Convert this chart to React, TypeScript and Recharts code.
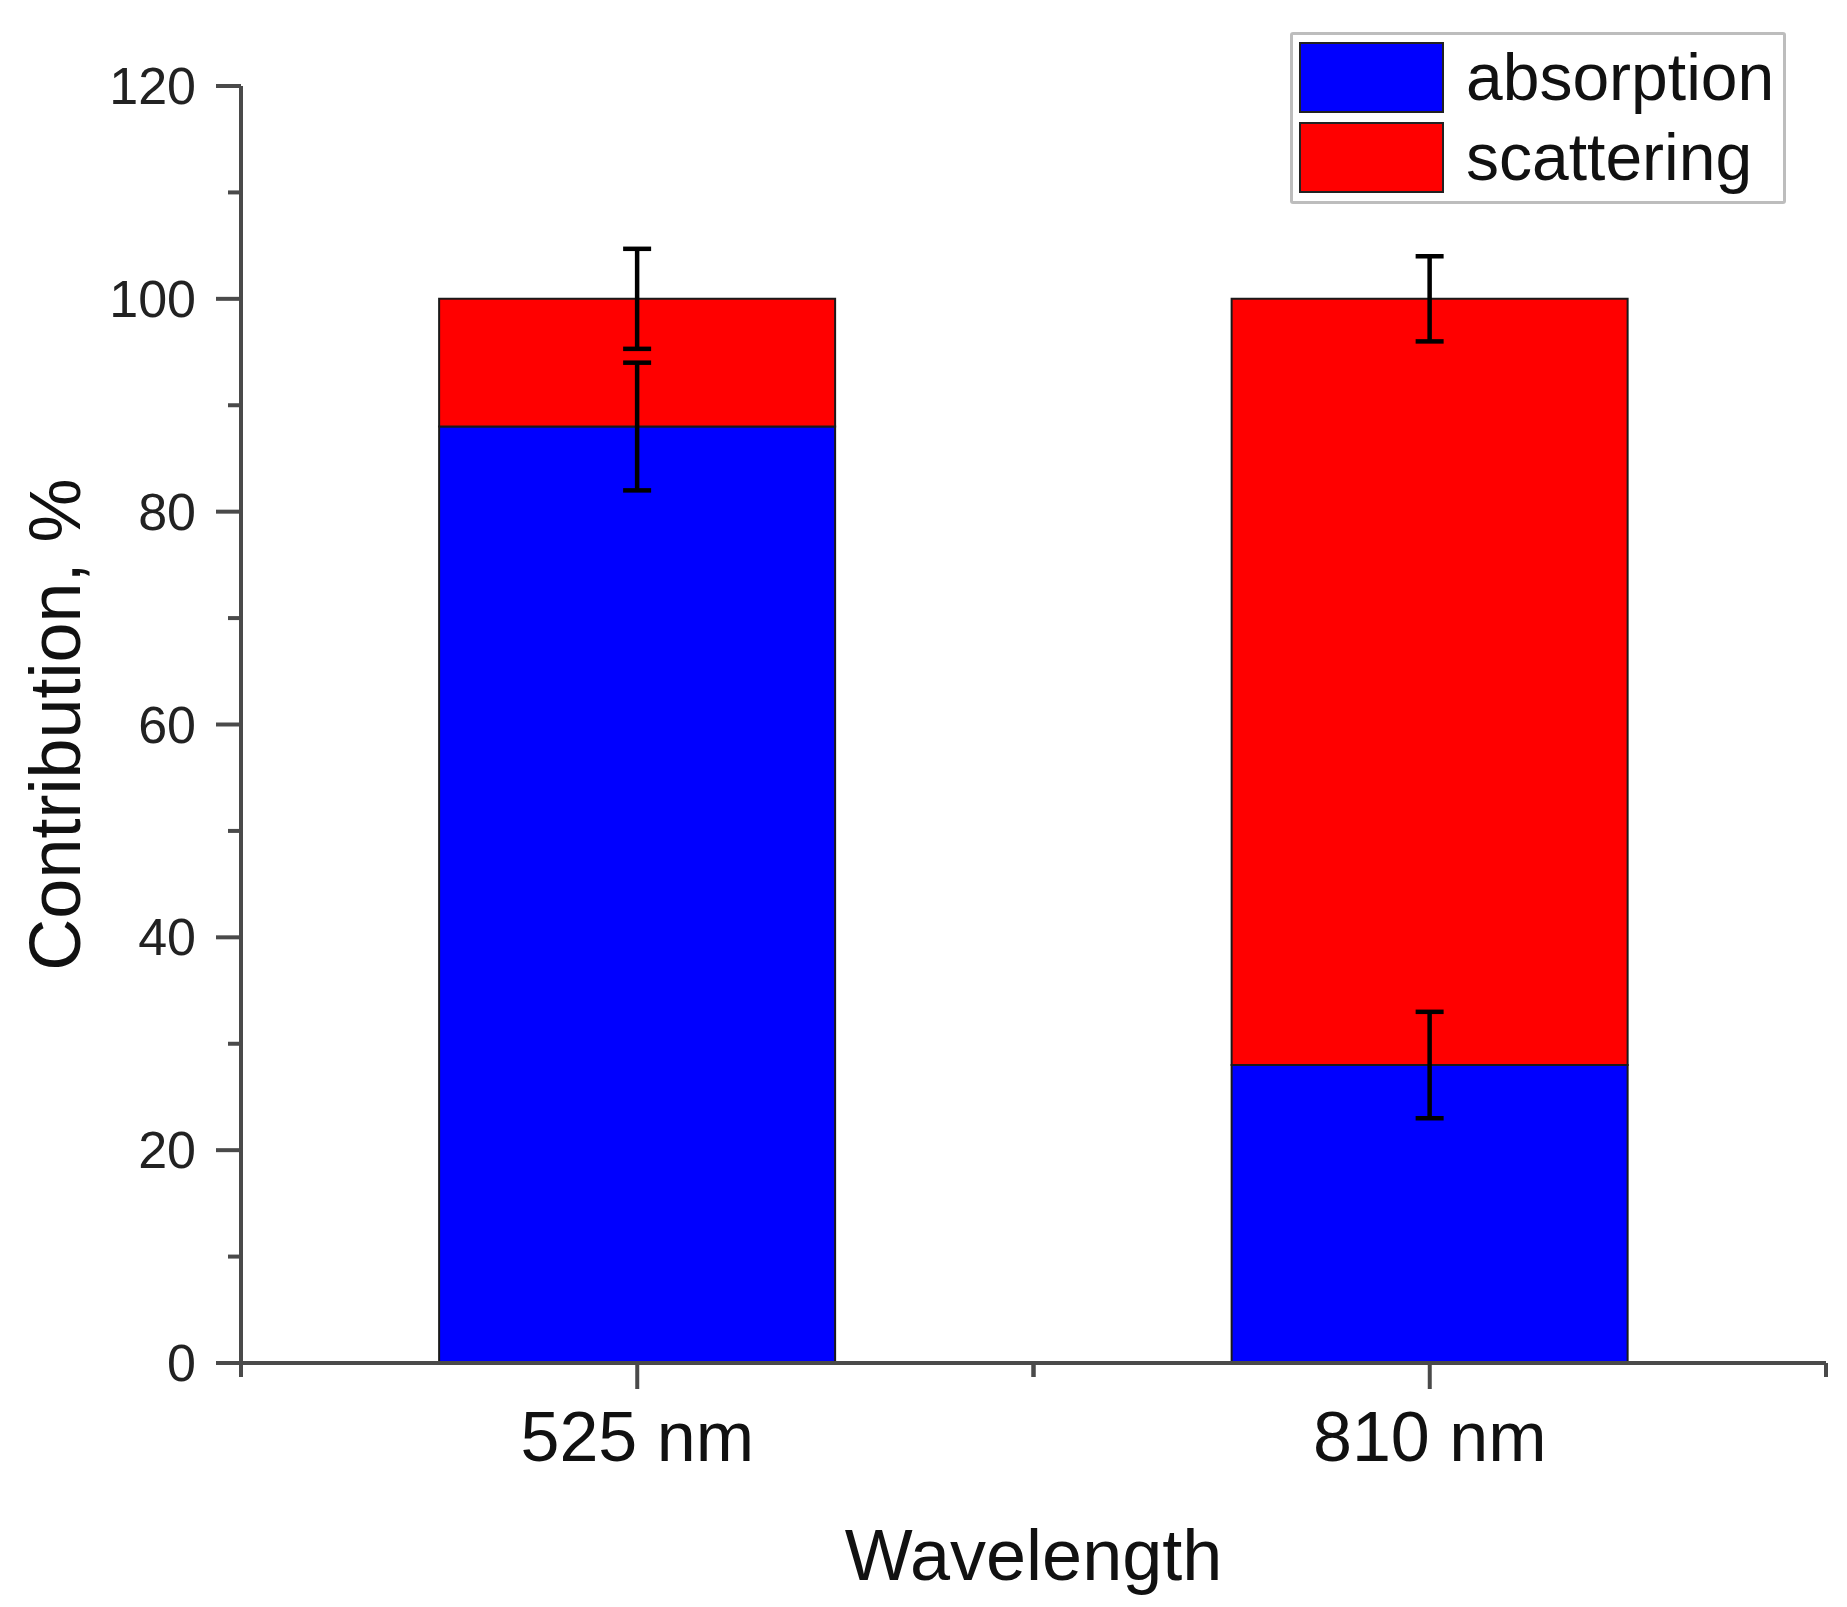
import React from "react";
import { Bar, BarChart, ErrorBar, Label, Legend, XAxis, YAxis } from "recharts";

const categories = ["525 nm", "810 nm"];
const absorption = [88, 28];
const scattering = [12, 72];
const absorptionErr = [6, 5];
const scatteringErr = [4.7, 4];
const yTicks = [0, 10, 20, 30, 40, 50, 60, 70, 80, 90, 100, 110, 120];

const data = categories.map((name, i) => ({
  name,
  absorption: absorption[i],
  scattering: scattering[i],
  absErr: absorptionErr[i],
  scaErr: scatteringErr[i],
}));

const FONT = "'Liberation Sans', Arial, sans-serif";
const AXIS = "#4a4a4a";

function YTick(props: any) {
  const { x, y, payload } = props;
  const major = payload.value % 20 === 0;
  return (
    <g>
      <line x1={x} x2={x - (major ? 25 : 13)} y1={y} y2={y} stroke={AXIS} strokeWidth={4} />
      {major && (
        <text x={x - 45} y={y} textAnchor="end" dominantBaseline="central" fontFamily={FONT} fontSize={52} fill="#222">
          {payload.value}
        </text>
      )}
    </g>
  );
}

function XTick(props: any) {
  const { x, y, payload, width } = props;
  const half = payload.offset ?? width / categories.length / 2;
  return (
    <g>
      <line x1={x} x2={x} y1={y} y2={y + 26} stroke={AXIS} strokeWidth={4} />
      <line x1={x - half} x2={x - half} y1={y} y2={y + 14} stroke={AXIS} strokeWidth={4} />
      <line x1={x + half} x2={x + half} y1={y} y2={y + 14} stroke={AXIS} strokeWidth={4} />
      <text x={x} y={y + 74} textAnchor="middle" dominantBaseline="central" fontFamily={FONT} fontSize={70} fill="#111">
        {payload.value}
      </text>
    </g>
  );
}

function LegendBox({ payload }: any) {
  return (
    <div
      style={{
        border: "3px solid #bdbdbd",
        borderRadius: 3,
        background: "#fff",
        padding: "2px 9px 4px 6px",
        fontFamily: FONT,
      }}
    >
      {(payload || []).map((p: any) => (
        <div key={p.value} style={{ display: "flex", alignItems: "center", height: 80 }}>
          <div style={{ width: 145, height: 71, background: p.color, border: "2px solid #222", boxSizing: "border-box" }} />
          <span style={{ marginLeft: 22, fontSize: 66, color: "#111", lineHeight: 1 }}>{p.value}</span>
        </div>
      ))}
    </div>
  );
}

export default function App() {
  return (
    <div style={{ position: "absolute", left: 0, top: 0, width: 1847, height: 1607, background: "#fff" }}>
      <BarChart
        width={1847}
        height={1607}
        data={data}
        margin={{ top: 86, right: 21, bottom: 0, left: 0 }}
        barCategoryGap="25%"
      >
        <XAxis
          dataKey="name"
          height={244}
          tickLine={false}
          tickSize={0}
          tickMargin={0}
          axisLine={{ stroke: AXIS, strokeWidth: 4 }}
          tick={<XTick />}
          interval={0}
        >
          <Label
            content={({ viewBox }: any) => (
              <text
                x={viewBox.x + viewBox.width / 2}
                y={viewBox.y + 192}
                textAnchor="middle"
                dominantBaseline="central"
                fontFamily={FONT}
                fontSize={72}
                fill="#111"
              >
                Wavelength
              </text>
            )}
          />
        </XAxis>
        <YAxis
          width={241}
          domain={[0, 120]}
          ticks={yTicks}
          interval={0}
          tickLine={false}
          tickSize={0}
          tickMargin={0}
          axisLine={{ stroke: AXIS, strokeWidth: 4 }}
          tick={<YTick />}
        >
          <Label
            content={({ viewBox }: any) => {
              const cx = viewBox.x + 55;
              const cy = viewBox.y + viewBox.height / 2;
              return (
                <text
                  x={cx}
                  y={cy}
                  transform={`rotate(-90 ${cx} ${cy})`}
                  textAnchor="middle"
                  dominantBaseline="central"
                  fontFamily={FONT}
                  fontSize={72}
                  fill="#111"
                >
                  Contribution, %
                </text>
              );
            }}
          />
        </YAxis>
        <Legend
          layout="vertical"
          align="center"
          verticalAlign="middle"
          wrapperStyle={{ left: 1290, top: 32, width: "auto", height: "auto" }}
          content={<LegendBox />}
        />
        <Bar dataKey="absorption" name="absorption" stackId="s" fill="#0000ff" stroke="#1a1a1a" strokeWidth={2} isAnimationActive={false}>
          <ErrorBar dataKey="absErr" width={14} stroke="#000" strokeWidth={4.5} direction="y" />
        </Bar>
        <Bar dataKey="scattering" name="scattering" stackId="s" fill="#ff0000" stroke="#1a1a1a" strokeWidth={2} isAnimationActive={false}>
          <ErrorBar dataKey="scaErr" width={14} stroke="#000" strokeWidth={4.5} direction="y" />
        </Bar>
      </BarChart>
    </div>
  );
}
